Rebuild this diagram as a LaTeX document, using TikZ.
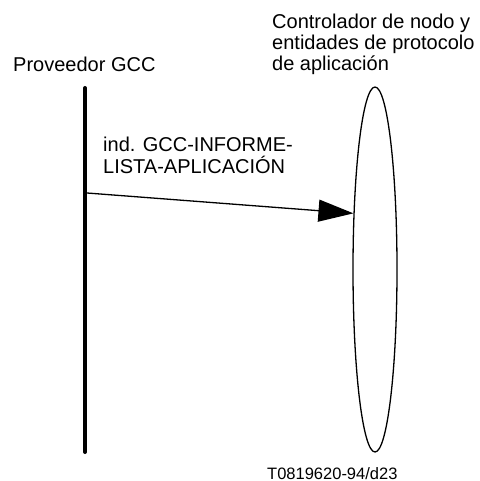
\documentclass[tikz,border=0pt]{standalone}
\usepackage{fontspec}
\setmainfont{Liberation Sans}
\usetikzlibrary{positioning,arrows.meta,shapes.geometric}
\tikzset{
    party/.style={
        font=\fontsize{20}{21}\selectfont, inner sep=0pt, align=left
    },
    msg/.style={
        font=\fontsize{20}{21}\selectfont, inner sep=0pt, align=left
    },
    entity/.style={
        ellipse, draw, line width=1.3pt, inner sep=0pt,
        minimum width=44pt, minimum height=365pt
    },
    provider/.style={
        line width=4pt, line cap=round
    },
    arrow/.style={
        -{Triangle[length=35pt, width=22pt]}, line width=1.3pt
    },
    refcode/.style={
        font=\fontsize{16.5}{18}\selectfont, inner sep=0pt
    }
}

\begin{document}
\begin{tikzpicture}[x=1pt, y=-1pt]
    \useasboundingbox (0,0) rectangle (479,481);

    % --- PARTIES ---
    \coordinate (gcc_top) at (85,88);
    \coordinate (gcc_bot) at (85,452);
    \draw[provider] (gcc_top) -- (gcc_bot);
    \node[entity] (ent) at (375,269.5) {};

    % labels: base anchor sits on the last line
    \node[party, anchor=base west] (gcc_lbl) at (13,72) {Proveedor GCC};
    \node[party, anchor=base west] (ent_lbl) at (272,71)
        {Controlador de nodo y\\entidades de protocolo\\de aplicación};

    % --- MESSAGE ---
    \coordinate (src) at (87,193);
    \draw[arrow] (src) -- (ent.111.8);
    \node[msg, anchor=base west] (ind) at (103,173)
        {ind. GCC-INFORME-\\LISTA-APLICACIÓN};

    \node[refcode, anchor=base west] (code) at (267,479) {T0819620-94/d23};
\end{tikzpicture}
\end{document}
